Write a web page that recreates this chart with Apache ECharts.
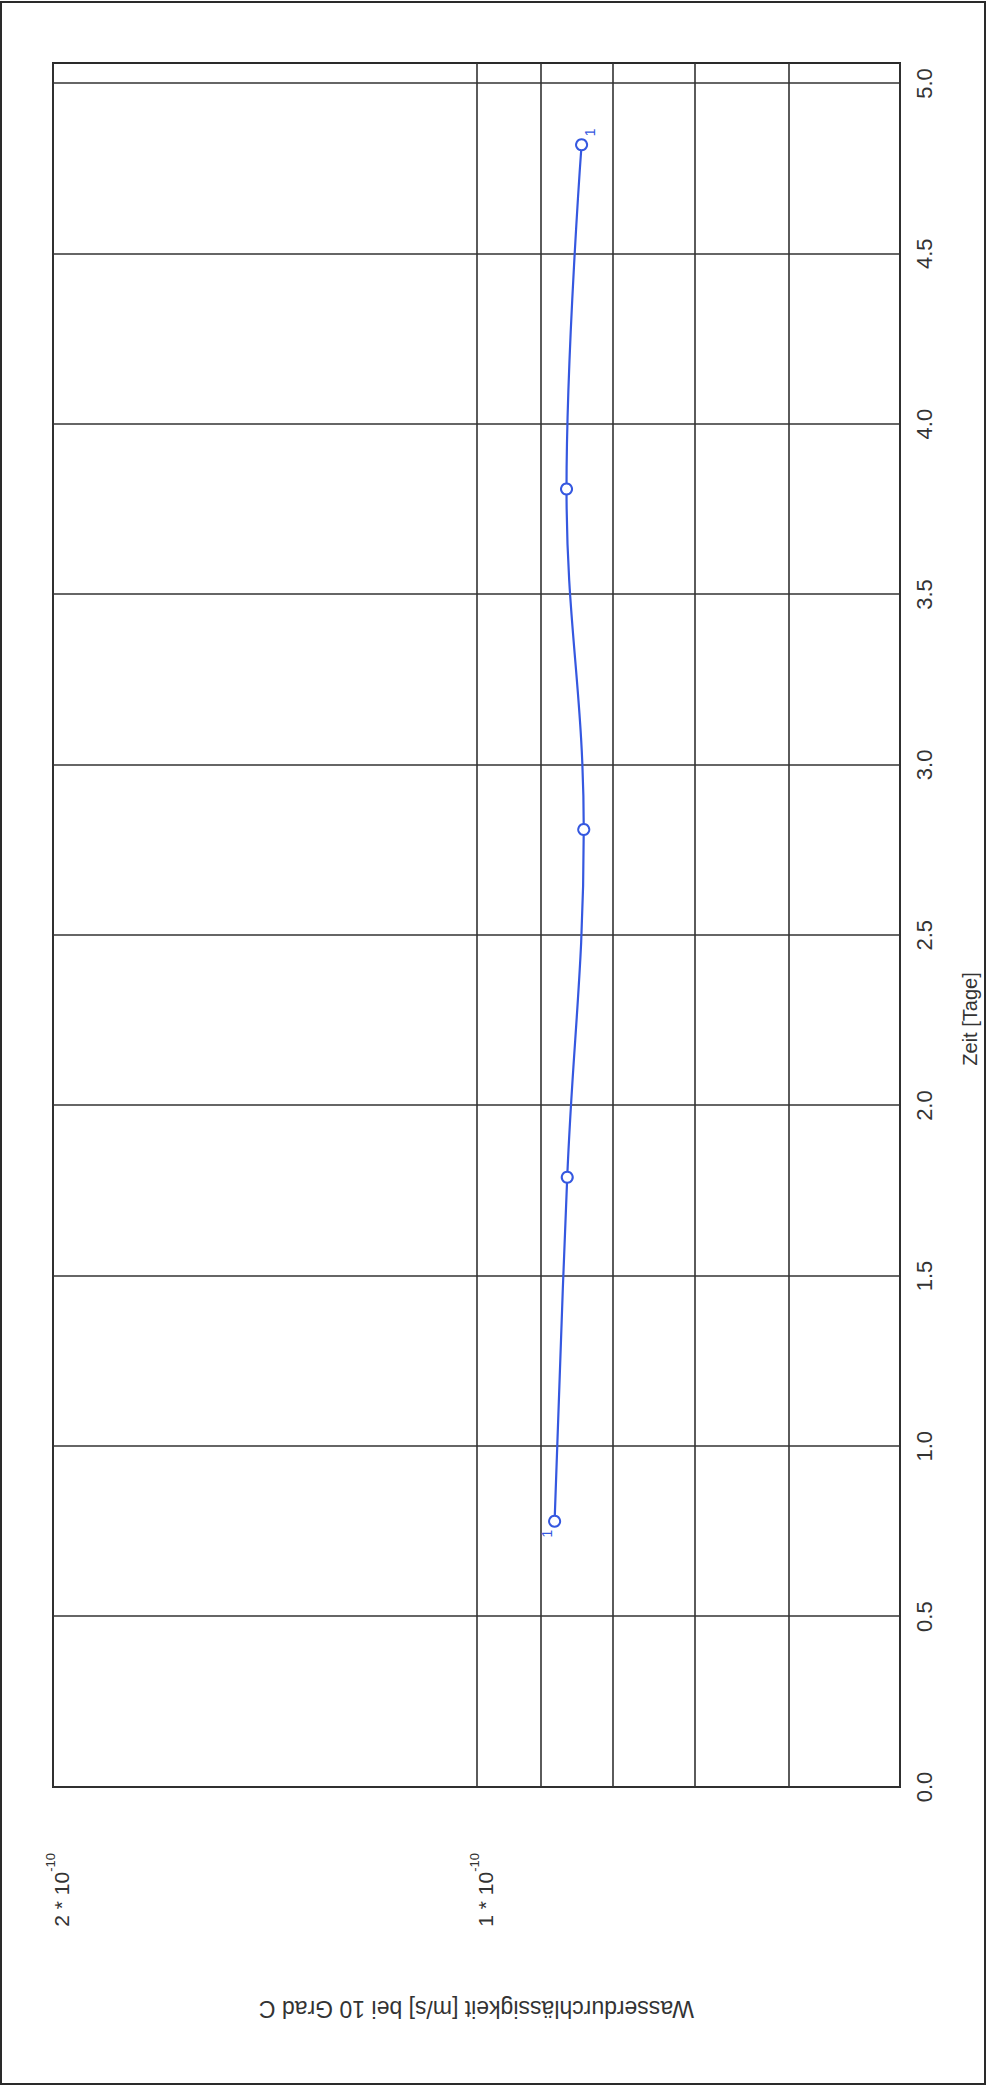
<!DOCTYPE html>
<html><head><meta charset="utf-8">
<script src="https://cdn.jsdelivr.net/npm/echarts@6/dist/echarts.min.js"></script>
<style>
html,body{margin:0;padding:0;background:#fff;width:988px;height:2086px;overflow:hidden;position:relative}
#frame{position:absolute;left:0px;top:1px;width:986px;height:2084px;border:2px solid #2a2a2a;box-sizing:border-box;z-index:5;pointer-events:none}
#chart{position:absolute;left:-549px;top:549px;width:2086px;height:988px;transform:rotate(-90deg);transform-origin:50% 50%;z-index:1}
</style></head>
<body><div id="chart"></div><div id="frame"></div>
<script>
// Data
const days = [0.78, 1.79, 2.81, 3.81, 4.82];
const permeability = [8.80e-11, 8.62e-11, 8.39e-11, 8.63e-11, 8.42e-11];
const xTickValues = [0, 0.5, 1.0, 1.5, 2.0, 2.5, 3.0, 3.5, 4.0, 4.5, 5.0];
const yGridValues = [2e-10, 1e-10, 9e-11, 8e-11, 7e-11, 6e-11, 5e-11];
const yLabelValues = [2e-10, 1e-10];
const yLabelMantissa = ['2', '1'];
const xAxisTitle = 'Zeit [Tage]';
const yAxisTitle = 'Wasserdurchlässigkeit [m/s] bei 10 Grad C';
const seriesTag = '1';

const FONT = '"Liberation Sans", Arial, sans-serif';
const lg = v => Math.log10(v);
const chart = echarts.init(document.getElementById('chart'), null, {renderer: 'svg'});

const pts = days.map((d, i) => {
  const item = {value: [d, lg(permeability[i])]};
  if (i === 0) item.label = {show: true, position: 'left', distance: 2, offset: [0, -8]};
  if (i === days.length - 1) item.label = {show: true, position: 'right', distance: 2, offset: [0, 8]};
  return item;
});

chart.setOption({
  animation: false,
  backgroundColor: 'transparent',
  grid: {left: 299, right: 63, top: 53, bottom: 88, show: true, borderColor: '#2a2a2a', borderWidth: 2, backgroundColor: 'transparent'},
  xAxis: {
    type: 'value', min: 0, max: 5.06,
    name: xAxisTitle, nameLocation: 'middle', nameGap: 60,
    nameTextStyle: {fontFamily: FONT, fontSize: 20, color: '#333', padding: [0, 188, 0, 0]},
    axisLine: {show: false},
    axisTick: {show: false, customValues: xTickValues},
    axisLabel: {customValues: xTickValues, formatter: v => v.toFixed(1), fontFamily: FONT, fontSize: 22, color: '#333', margin: 13},
    splitLine: {show: true, lineStyle: {color: '#333', width: 1.6, type: 'solid'}}
  },
  yAxis: {
    type: 'value', min: lg(5e-11), max: lg(2e-10),
    name: yAxisTitle, nameLocation: 'middle', nameGap: 210,
    nameTextStyle: {fontFamily: FONT, fontSize: 23, color: '#333'},
    axisLine: {show: false},
    axisTick: {show: false, customValues: yGridValues.map(lg)},
    axisLabel: {
      customValues: yLabelValues.map(lg), margin: 66, padding: [10, 0, 0, 0],
      formatter: v => {
        const idx = yLabelValues.findIndex(t => Math.abs(lg(t) - v) < 1e-6);
        return '{b|' + (idx >= 0 ? yLabelMantissa[idx] : '') + ' * 10}{s|-10}';
      },
      rich: {
        b: {fontFamily: FONT, fontSize: 21, color: '#333', verticalAlign: 'bottom', lineHeight: 28},
        s: {fontFamily: FONT, fontSize: 13, color: '#333', verticalAlign: 'top', lineHeight: 28}
      }
    },
    splitLine: {show: true, lineStyle: {color: '#333', width: 1.6, type: 'solid'}}
  },
  series: [{
    type: 'line', data: pts, smooth: 0.4,
    symbol: 'emptyCircle', symbolSize: 11,
    lineStyle: {color: '#3558e0', width: 2.2},
    itemStyle: {color: '#3558e0', borderColor: '#3558e0', borderWidth: 2.2},
    label: {show: false, formatter: () => seriesTag, fontFamily: FONT, fontSize: 14, color: '#3558e0'},
    z: 5
  }]
});
</script>
</body></html>
